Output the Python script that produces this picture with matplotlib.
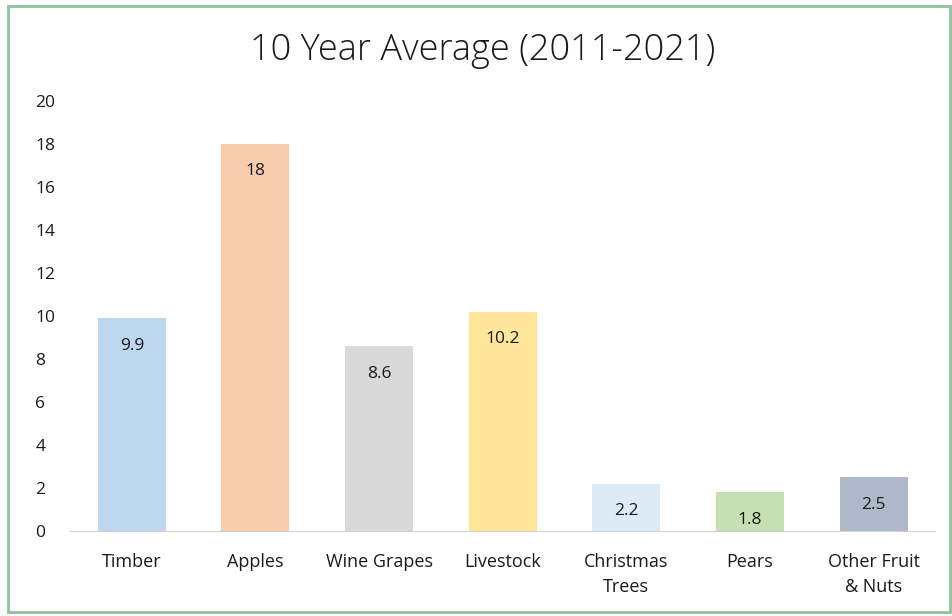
import matplotlib.pyplot as plt
from matplotlib.patches import Rectangle

categories = ["Timber", "Apples", "Wine Grapes", "Livestock", "Christmas\nTrees", "Pears", "Other Fruit\n& Nuts"]
values = [9.9, 18, 8.6, 10.2, 2.2, 1.8, 2.5]
colors = ["#bdd7ee", "#f8cbad", "#d9d9d9", "#ffe699", "#ddebf7", "#c6e0b4", "#adb9ca"]
yticks = list(range(0, 21, 2))

plt.rcParams['font.family'] = ['Open Sans', 'DejaVu Sans']

fig = plt.figure(figsize=(9.52, 6.16), dpi=100)
ax = fig.add_axes([0.0735, 0.138, 0.909, 0.698])

x = range(len(categories))
bars = ax.bar(x, values, width=0.55, color=colors)

# value labels inside the bar, just under its top
for b, v in zip(bars, values):
    ax.annotate(f"{v:g}", (b.get_x() + b.get_width() / 2, v),
                xytext=(0, -14), textcoords="offset points",
                ha="center", va="top", fontsize=12.5, color="#1a1a1a")

ax.set_xlim(-0.5, len(categories) - 0.5)
ax.set_ylim(0, 20)
ax.set_yticks(yticks)
ax.set_xticks(list(x))
ax.set_xticklabels(categories, fontsize=13, color="#1a1a1a", linespacing=1.5)
ax.tick_params(axis="y", labelsize=12.5, colors="#1a1a1a", length=0, pad=25)
ax.tick_params(axis="x", length=0, pad=16)
for lbl in ax.get_yticklabels():
    lbl.set_horizontalalignment("left")

for s in ["top", "right", "left"]:
    ax.spines[s].set_visible(False)
ax.spines["bottom"].set_color("#d0d0d0")

fig.text(0.507, 0.918, "10 Year Average (2011-2021)", ha="center", va="center",
         fontsize=26, fontweight="light", color="#1a1a1a")

fig.patches.append(Rectangle((0.008, 0.006), 0.99, 0.985, transform=fig.transFigure,
                             fill=False, edgecolor="#8cc59a", linewidth=2))

fig.savefig("out.png", dpi=100)
